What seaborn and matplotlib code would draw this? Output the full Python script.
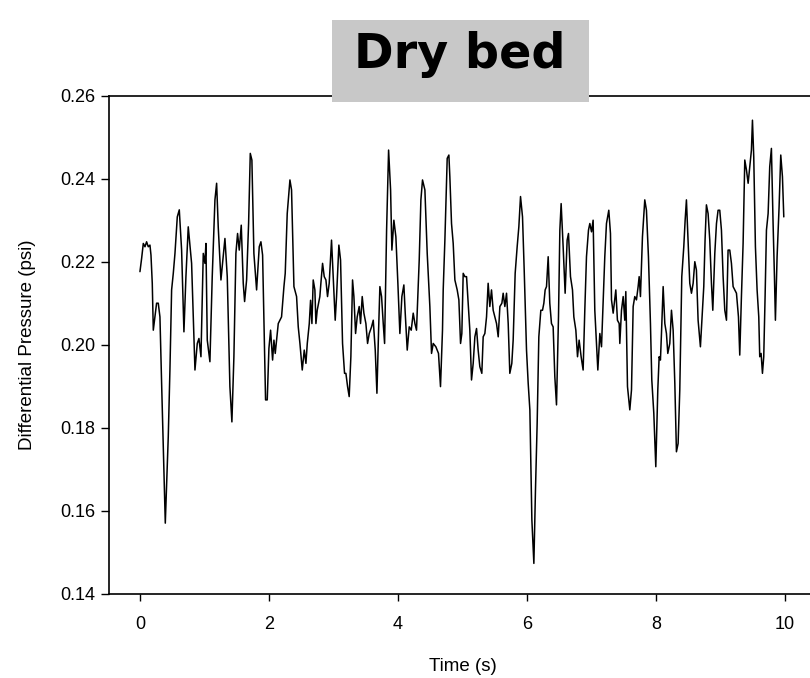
import matplotlib
matplotlib.use("Agg")
import matplotlib.pyplot as plt
from matplotlib.patches import Rectangle
import seaborn as sns
import pandas as pd

# ---- data ----
time_s = [
    0.000, 0.026, 0.052, 0.078, 0.103, 0.129, 0.155, 0.171, 0.191, 0.207, 0.258, 0.284, 0.310, 0.336,
    0.393, 0.439, 0.465, 0.491, 0.517, 0.543, 0.579, 0.610, 0.646, 0.682, 0.713, 0.749, 0.801, 0.853,
    0.889, 0.915, 0.946, 0.982, 1.008, 1.023, 1.044, 1.085, 1.121, 1.163, 1.189, 1.214, 1.256, 1.318,
    1.354, 1.395, 1.426, 1.457, 1.488, 1.514, 1.540, 1.571, 1.602, 1.623, 1.654, 1.685, 1.711, 1.736,
    1.767, 1.809, 1.850, 1.876, 1.902, 1.948, 1.974, 2.000, 2.026,
    2.057, 2.078, 2.098, 2.145, 2.196, 2.233, 2.253, 2.284, 2.326, 2.351, 2.388, 2.429, 2.455, 2.481,
    2.517, 2.548, 2.574, 2.595, 2.626, 2.646, 2.667, 2.687, 2.713, 2.729, 2.749, 2.790, 2.806, 2.832,
    2.858, 2.884, 2.909, 2.935, 2.971, 2.997, 3.028, 3.049, 3.085, 3.111, 3.142, 3.173, 3.194, 3.220,
    3.245, 3.271, 3.297, 3.318, 3.344, 3.369, 3.400, 3.421, 3.447, 3.473, 3.504, 3.530, 3.556, 3.592,
    3.618, 3.649, 3.675, 3.701, 3.721, 3.747, 3.773, 3.794, 3.825, 3.856, 3.887, 3.907, 3.938, 3.969,
    4.000, 4.031, 4.062, 4.093, 4.114, 4.145, 4.176, 4.207, 4.238, 4.264, 4.289, 4.331, 4.357, 4.382,
    4.419, 4.455, 4.496, 4.522, 4.548, 4.589, 4.630, 4.661, 4.692,
    4.703, 4.729, 4.765, 4.791, 4.806, 4.832, 4.858, 4.884, 4.920, 4.946, 4.972, 4.992, 5.013, 5.039,
    5.065, 5.090, 5.116, 5.142, 5.168, 5.194, 5.220, 5.245, 5.271, 5.302, 5.323, 5.349, 5.375, 5.400,
    5.426, 5.452, 5.478, 5.504, 5.530, 5.556, 5.582, 5.613, 5.633, 5.659, 5.685, 5.711, 5.736, 5.767,
    5.788, 5.819, 5.850, 5.876, 5.902, 5.933, 5.959, 5.995, 6.021, 6.047, 6.078, 6.109, 6.134, 6.160,
    6.186, 6.217, 6.243, 6.264, 6.284, 6.305, 6.331, 6.356, 6.382, 6.408, 6.434, 6.460, 6.491, 6.512,
    6.532, 6.563, 6.594, 6.625, 6.646, 6.677, 6.708, 6.729, 6.760, 6.786, 6.811, 6.842, 6.873, 6.899,
    6.925, 6.956, 6.977, 7.003, 7.028, 7.054, 7.080, 7.101, 7.132, 7.158, 7.183, 7.209, 7.235, 7.271,
    7.297,
    7.313, 7.339, 7.380, 7.405, 7.432, 7.442, 7.468, 7.494, 7.519, 7.535, 7.561, 7.597, 7.623, 7.649,
    7.674, 7.700, 7.726, 7.742, 7.762, 7.793, 7.829, 7.855, 7.886, 7.917, 7.938, 7.969, 8.000, 8.031,
    8.052, 8.072, 8.088, 8.114, 8.140, 8.165, 8.186, 8.217, 8.243, 8.269, 8.295, 8.320, 8.346, 8.372,
    8.403, 8.434, 8.455, 8.475, 8.506, 8.527, 8.553, 8.579, 8.605, 8.630, 8.656, 8.692, 8.718, 8.744,
    8.764, 8.785, 8.811, 8.837, 8.863, 8.884, 8.915, 8.941, 8.966, 8.992, 9.018, 9.044, 9.070, 9.096,
    9.121, 9.147, 9.173, 9.199, 9.225, 9.251, 9.282, 9.302, 9.328, 9.354, 9.380, 9.406, 9.432, 9.457,
    9.483, 9.499, 9.519, 9.545, 9.571, 9.597, 9.612, 9.633, 9.654, 9.674, 9.695, 9.716, 9.742, 9.767,
    9.793, 9.819, 9.840, 9.855, 9.881, 9.912, 9.938, 9.964, 9.985,
]

pressure_psi = [
    0.2176, 0.2208, 0.2244, 0.2236, 0.2248, 0.2236, 0.2240, 0.2216, 0.2148, 0.2035, 0.2100, 0.2100, 0.2067, 0.1907,
    0.1570, 0.1778, 0.1940, 0.2132, 0.2172, 0.2220, 0.2308, 0.2325, 0.2228, 0.2031, 0.2164, 0.2284, 0.2196, 0.1939,
    0.2003, 0.2015, 0.1971, 0.2220, 0.2196, 0.2244, 0.2011, 0.1959, 0.2164, 0.2349, 0.2389, 0.2284, 0.2156, 0.2256,
    0.2164, 0.1899, 0.1814, 0.1971, 0.2220, 0.2268, 0.2228, 0.2288, 0.2148, 0.2104, 0.2156, 0.2292, 0.2461, 0.2445,
    0.2220, 0.2132, 0.2236, 0.2248, 0.2216, 0.1867, 0.1867, 0.1991, 0.2035,
    0.1963, 0.2011, 0.1979, 0.2051, 0.2067, 0.2140, 0.2172, 0.2316, 0.2397, 0.2373, 0.2140, 0.2116, 0.2043, 0.2003,
    0.1939, 0.1987, 0.1955, 0.2003, 0.2051, 0.2107, 0.2051, 0.2156, 0.2132, 0.2051, 0.2083, 0.2116, 0.2148, 0.2196,
    0.2164, 0.2156, 0.2116, 0.2148, 0.2252, 0.2164, 0.2059, 0.2116, 0.2240, 0.2204, 0.2003, 0.1931, 0.1931, 0.1899,
    0.1875, 0.1971, 0.2156, 0.2116, 0.2027, 0.2067, 0.2092, 0.2051, 0.2116, 0.2076, 0.2051, 0.2003, 0.2027, 0.2043,
    0.2059, 0.1987, 0.1883, 0.2035, 0.2140, 0.2116, 0.2051, 0.2003, 0.2276, 0.2469, 0.2373, 0.2228, 0.2300, 0.2260,
    0.2148, 0.2027, 0.2116, 0.2144, 0.2076, 0.1987, 0.2043, 0.2035, 0.2076, 0.2051, 0.2035, 0.2204, 0.2349, 0.2397,
    0.2373, 0.2220, 0.2092, 0.1979, 0.2003, 0.1995, 0.1979, 0.1899, 0.2035,
    0.2132, 0.2252, 0.2449, 0.2457, 0.2405, 0.2292, 0.2244, 0.2156, 0.2132, 0.2108, 0.2003, 0.2027, 0.2172, 0.2164,
    0.2164, 0.2100, 0.2035, 0.1915, 0.1955, 0.2019, 0.2039, 0.1987, 0.1947, 0.1931, 0.2019, 0.2027, 0.2067, 0.2148,
    0.2092, 0.2132, 0.2083, 0.2067, 0.2051, 0.2019, 0.2092, 0.2100, 0.2124, 0.2092, 0.2124, 0.2051, 0.1931, 0.1955,
    0.2011, 0.2172, 0.2236, 0.2284, 0.2357, 0.2308, 0.2180, 0.1987, 0.1907, 0.1843, 0.1578, 0.1473, 0.1650, 0.1810,
    0.2019, 0.2083, 0.2083, 0.2100, 0.2132, 0.2140, 0.2212, 0.2100, 0.2051, 0.2043, 0.1923, 0.1855, 0.2067, 0.2276,
    0.2340, 0.2236, 0.2124, 0.2252, 0.2268, 0.2164, 0.2132, 0.2067, 0.2035, 0.1971, 0.2011, 0.1971, 0.1939, 0.2083,
    0.2212, 0.2276, 0.2292, 0.2272, 0.2300, 0.2083, 0.2003, 0.1939, 0.2027, 0.1995, 0.2100, 0.2212, 0.2292, 0.2324,
    0.2268,
    0.2108, 0.2076, 0.2132, 0.2059, 0.2051, 0.2003, 0.2083, 0.2116, 0.2059, 0.2128, 0.1899, 0.1843, 0.1891, 0.2092,
    0.2116, 0.2108, 0.2140, 0.2164, 0.2116, 0.2260, 0.2349, 0.2324, 0.2212, 0.2051, 0.1915, 0.1835, 0.1706, 0.1891,
    0.1971, 0.1963, 0.2027, 0.2140, 0.2051, 0.2027, 0.1979, 0.2003, 0.2083, 0.2035, 0.1907, 0.1742, 0.1762, 0.1891,
    0.2164, 0.2236, 0.2300, 0.2349, 0.2228, 0.2148, 0.2124, 0.2148, 0.2200, 0.2180, 0.2059, 0.1995, 0.2067, 0.2140,
    0.2252, 0.2337, 0.2316, 0.2252, 0.2148, 0.2083, 0.2220, 0.2292, 0.2324, 0.2324, 0.2276, 0.2164, 0.2083, 0.2059,
    0.2228, 0.2228, 0.2196, 0.2140, 0.2132, 0.2124, 0.2067, 0.1975, 0.2116, 0.2244, 0.2445, 0.2421, 0.2389, 0.2429,
    0.2469, 0.2541, 0.2453, 0.2236, 0.2132, 0.2067, 0.1971, 0.1979, 0.1931, 0.1971, 0.2116, 0.2276, 0.2316, 0.2429,
    0.2473, 0.2292, 0.2164, 0.2059, 0.2212, 0.2332, 0.2457, 0.2405, 0.2308,
]

x_ticks = [0, 2, 4, 6, 8, 10]
y_ticks = [0.14, 0.16, 0.18, 0.20, 0.22, 0.24, 0.26]
title_text = "Dry bed"
x_label = "Time (s)"
y_label = "Differential Pressure (psi)"

# ---- styling ----
sns.set_style("ticks")
plt.rcParams["font.family"] = ["Liberation Sans", "DejaVu Sans"]
plt.rcParams["text.color"] = "black"
plt.rcParams["axes.labelcolor"] = "black"

W, H = 810, 678
fig = plt.figure(figsize=(W / 100, H / 100), dpi=100)
left, right, top, bottom = 109, 817, 95.7, 593.7
ax = fig.add_axes([left / W, 1 - bottom / H, (right - left) / W, (bottom - top) / H])

df = pd.DataFrame({"t": time_s, "p": pressure_psi})
sns.lineplot(data=df, x="t", y="p", ax=ax, color="black", linewidth=1.1,
             sort=False, estimator=None)

ax.set_xlim(-0.48, 10.5)
ax.set_ylim(0.14, 0.26)
ax.set_xticks(x_ticks)
ax.set_xticklabels([str(v) for v in x_ticks])
ax.set_yticks(y_ticks)
ax.set_yticklabels([f"{v:.2f}" for v in y_ticks])
ax.tick_params(axis="both", labelsize=13, colors="black", width=1.0, direction="out")
ax.tick_params(axis="y", length=6, pad=4)
ax.tick_params(axis="x", length=5, pad=11)
ax.set_xlabel(x_label, fontsize=13.5, labelpad=18, color="black")
ax.set_ylabel(y_label, fontsize=13.5, labelpad=17, color="black")
for s in ax.spines.values():
    s.set_color("black")
    s.set_linewidth(1.2)

# title box overlapping top spine
bx0, bx1, by0, by1 = 332, 589, 20, 102
rect = Rectangle((bx0 / W, 1 - by1 / H), (bx1 - bx0) / W, (by1 - by0) / H,
                 transform=fig.transFigure, facecolor="#C8C8C8", edgecolor="none", zorder=5)
fig.add_artist(rect)
ttl = fig.text(460 / W, 1 - 68 / H, title_text, ha="center", va="baseline",
               fontsize=34, fontweight="bold", family=["DejaVu Sans"],
               color="black", zorder=6)
# fit title width to the reference (~212 px)
r = fig.canvas.get_renderer()
wpx = ttl.get_window_extent(renderer=r).width
ttl.set_fontsize(34 * 212.0 / wpx)

fig.savefig("out.png", dpi=100)
